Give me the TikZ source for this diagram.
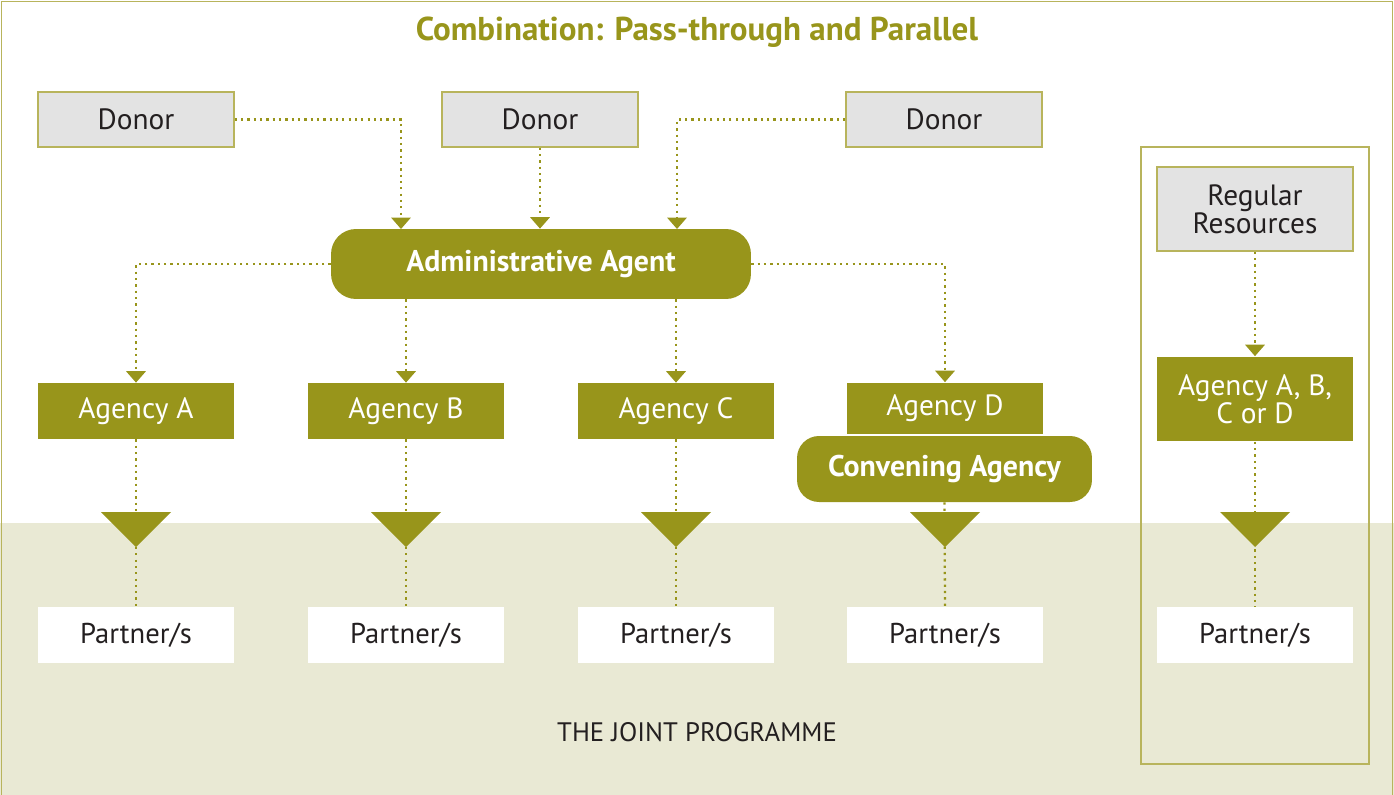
\documentclass[tikz,border=0pt]{standalone}
\usepackage{fontspec}
\setmainfont{PT Sans}
\usetikzlibrary{arrows.meta}

\definecolor{olivedark}{HTML}{98951B}
\definecolor{olivelight}{HTML}{B8B45C}
\definecolor{bandbeige}{HTML}{E9E9D4}
\definecolor{donorgray}{HTML}{E3E3E3}
\definecolor{inkdark}{HTML}{231F20}

\tikzset{
  donorbox/.style={draw=olivelight, line width=0.8pt, fill=donorgray, text=inkdark,
    minimum width=3.92cm, minimum height=1.1cm, font=\fontsize{16.7}{18}\selectfont},
  agencybox/.style={fill=olivedark, text=white, minimum width=3.92cm, minimum height=1.12cm,
    font=\fontsize{16.7}{18}\selectfont},
  partnerbox/.style={fill=white, text=inkdark, minimum width=3.92cm, minimum height=1.12cm,
    font=\fontsize{16.3}{18}\selectfont},
  agentpill/.style={fill=olivedark, text=white, rounded corners=0.5cm,
    font=\bfseries\fontsize{17}{19}\selectfont},
  link/.style={olivedark, line width=1.3pt, dash pattern=on 1.3pt off 2.3pt},
  linkarrow/.style={link, -{Triangle[width=11pt,length=6.5pt]}},
}

\begin{document}
\begin{tikzpicture}[x=0.02cm,y=-0.02cm]
  \useasboundingbox (0,0) rectangle (1394,795);
  % joint programme band and frame
  \fill[bandbeige] (0,523) rectangle (1394,795);
  \draw[olivelight, line width=1pt] (1.5,1.5) rectangle (1392.5,800);
  \draw[olivelight, line width=1pt] (1141,147) rectangle (1369,764);

  \node[text=olivedark, font=\bfseries\fontsize{18.8}{20}\selectfont] (title) at (697,32) {Combination: Pass-through and Parallel};

  % donors
  \node[donorbox] (don1) at (136,119.5) {Donor};
  \node[donorbox] (don2) at (540,119.5) {Donor};
  \node[donorbox] (don3) at (944,119.5) {Donor};

  \node[agentpill, minimum width=8.4cm, minimum height=1.4cm] (admin) at (541,264) {Administrative Agent};

  % agencies
  \node[agencybox] (agA) at (136,411) {Agency A};
  \node[agencybox] (agB) at (406,411) {Agency B};
  \node[agencybox] (agC) at (676,411) {Agency C};
  \node[agencybox, minimum height=1.02cm] (agD) at (945,408) {Agency D};
  \node[agentpill, minimum width=5.9cm, minimum height=1.32cm, rounded corners=0.44cm] (conv) at (944.5,469) {Convening Agency};

  % partners
  \node[partnerbox] (parA) at (136,635) {Partner/s};
  \node[partnerbox] (parB) at (406,635) {Partner/s};
  \node[partnerbox] (parC) at (676,635) {Partner/s};
  \node[partnerbox] (parD) at (945,635) {Partner/s};

  % parallel part
  \node[donorbox, minimum height=1.68cm, align=center] (rr) at (1255,209) {Regular\\[-2pt]Resources};
  \node[agencybox, minimum height=1.7cm, align=center] (agX) at (1255,399) {Agency A, B,\\[-2pt]C or D};
  \node[partnerbox] (parX) at (1255,635) {Partner/s};

  \node[text=inkdark, font=\fontsize{15.2}{17}\selectfont] (jp) at (697,732) {THE JOINT PROGRAMME};

  % money flows
  \coordinate (in1) at (401,229);
  \coordinate (in3) at (677,229);
  \draw[linkarrow] (don1.east) -| (in1);
  \draw[linkarrow] (don2.south) -- (don2.south |- admin.north);
  \draw[linkarrow] (don3.west) -| (in3);

  \draw[linkarrow] (admin.west) -| (agA.north);
  \draw[linkarrow] (agB.north |- admin.south) -- (agB.north);
  \draw[linkarrow] (agC.north |- admin.south) -- (agC.north);
  \draw[linkarrow] (admin.east) -| (agD.north);
  \draw[linkarrow] (rr.south) -- (agX.north);

  \draw[link] (agA.south) -- (parA.north);
  \draw[link] (agB.south) -- (parB.north);
  \draw[link] (agC.south) -- (parC.north);
  \draw[link] (conv.south) -- (parD.north);
  \draw[link] (agX.south) -- (parX.north);

  \foreach \x in {136,406,676,945,1255}
    \fill[olivedark] (\x-35,512) -- (\x+35,512) -- (\x,547) -- cycle;
\end{tikzpicture}
\end{document}
